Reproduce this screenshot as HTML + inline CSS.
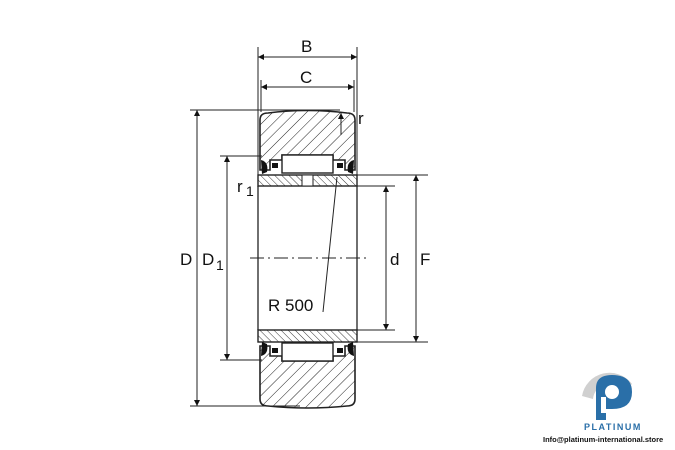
<!DOCTYPE html>
<html><head><meta charset="utf-8"><style>body{margin:0;background:#fff}svg{display:block}</style></head><body>
<svg width="675" height="450" viewBox="0 0 675 450" xmlns="http://www.w3.org/2000/svg" font-family="Liberation Sans, sans-serif">
<defs>
<pattern id="h" patternUnits="userSpaceOnUse" width="8" height="8" patternTransform="rotate(45)"><line x1="0" y1="0" x2="0" y2="8" stroke="#222" stroke-width="1"/></pattern>
<pattern id="h2" patternUnits="userSpaceOnUse" width="5" height="5" patternTransform="rotate(-45)"><line x1="0" y1="0" x2="0" y2="5" stroke="#222" stroke-width="0.9"/></pattern>
<marker id="a" viewBox="0 0 10 10" refX="10" refY="5" markerWidth="14" markerHeight="6" orient="auto-start-reverse" markerUnits="userSpaceOnUse"><path d="M0,0L10,5L0,10z" fill="#111"/></marker>
</defs>
<g stroke="#222" fill="none" stroke-width="1">
<line x1="258" y1="47" x2="258" y2="175"/><line x1="357" y1="47" x2="357" y2="175"/>
<line x1="261" y1="80" x2="261" y2="112"/><line x1="354" y1="80" x2="354" y2="112"/>
<line x1="190" y1="110" x2="340" y2="110"/><line x1="190" y1="406" x2="300" y2="406"/>
<line x1="220" y1="156" x2="262" y2="156"/><line x1="220" y1="360" x2="262" y2="360"/>
<line x1="357" y1="175" x2="428" y2="175"/><line x1="357" y1="186" x2="395" y2="186"/>
<line x1="357" y1="330" x2="395" y2="330"/><line x1="357" y1="342" x2="428" y2="342"/>
<line x1="258" y1="57" x2="357" y2="57" marker-start="url(#a)" marker-end="url(#a)"/>
<line x1="261" y1="87" x2="354" y2="87" marker-start="url(#a)" marker-end="url(#a)"/>
<line x1="197" y1="110" x2="197" y2="406" marker-start="url(#a)" marker-end="url(#a)"/>
<line x1="227" y1="156" x2="227" y2="360" marker-start="url(#a)" marker-end="url(#a)"/>
<line x1="386" y1="186" x2="386" y2="330" marker-start="url(#a)" marker-end="url(#a)"/>
<line x1="416" y1="175" x2="416" y2="342" marker-start="url(#a)" marker-end="url(#a)"/>
<line x1="341" y1="135" x2="341" y2="113" marker-end="url(#a)"/>
<line x1="258" y1="186" x2="258" y2="330" stroke-width="1.3"/><line x1="357" y1="186" x2="357" y2="330" stroke-width="1.3"/>
<line x1="250" y1="258" x2="366" y2="258" stroke-dasharray="14,4,2,4"/>
<line x1="337" y1="177" x2="323" y2="312"/>
<rect x="258" y="175" width="99" height="11" fill="url(#h2)" stroke-width="1.4"/>
<rect x="302" y="175" width="11" height="11" fill="#fff"/>
<rect x="258" y="330" width="99" height="12" fill="url(#h2)" stroke-width="1.4"/>
<path d="M260,170 L260,120 Q260,113 268,113 Q307,108 347,113 Q355,113 355,120 L355,170 L345,170 L345,160 L333,160 L333,155 L282,155 L282,160 L270,160 L270,170 Z" fill="url(#h)" stroke-width="1.6"/>
<path d="M260,346 L260,399 Q260,406 268,406 Q307,410 347,406 Q355,406 355,399 L355,346 L345,346 L345,356 L333,356 L333,361 L282,361 L282,356 L270,356 L270,346 Z" fill="url(#h)" stroke-width="1.6"/>
<rect x="282" y="155" width="51" height="18" fill="#fff" stroke-width="1.4"/>
<rect x="282" y="343" width="51" height="18" fill="#fff" stroke-width="1.4"/>
<g fill="#111" stroke="none">
<path d="M261,160 q8,2 6,12 l-5,2z"/><path d="M354,160 q-8,2 -6,12 l5,2z"/>
<path d="M261,356 q8,-2 6,-12 l-5,-2z"/><path d="M354,356 q-8,-2 -6,-12 l5,-2z"/>
<rect x="272" y="163" width="6" height="5"/><rect x="337" y="163" width="6" height="5"/>
<rect x="272" y="348" width="6" height="5"/><rect x="337" y="348" width="6" height="5"/>
</g>
</g>
<g fill="#111" font-size="17">
<text x="301" y="52">B</text><text x="300" y="83">C</text>
<text x="358" y="124">r</text>
<text x="237" y="192">r</text><text x="246" y="196" font-size="14">1</text>
<text x="180" y="265">D</text><text x="202" y="265">D</text><text x="216" y="270" font-size="14">1</text>
<text x="390" y="265">d</text><text x="420" y="265">F</text>
<text x="268" y="311">R 500</text>
</g>
<g>
<path d="M582,396 a28,28 0 0 1 50,-12 l-8,7 a17,17 0 0 0 -31,8z" fill="#d0d0d0"/>
<path d="M596,420 l0,-32 q0,-13 16,-13 q20,0 20,17 q0,17 -20,17 l-6,0 l0,11z" fill="#2a6fa8"/>
<circle cx="612" cy="392" r="7" fill="#fff"/>
<rect x="601" y="397" width="5" height="16" fill="#fff"/>
<text x="584" y="430" font-size="9" font-weight="bold" fill="#2a6fa8" letter-spacing="1.5">PLATINUM</text>
<text x="543" y="442" font-size="7.5" font-weight="bold" fill="#111">Info@platinum-international.store</text>
</g>
</svg>
</body></html>
